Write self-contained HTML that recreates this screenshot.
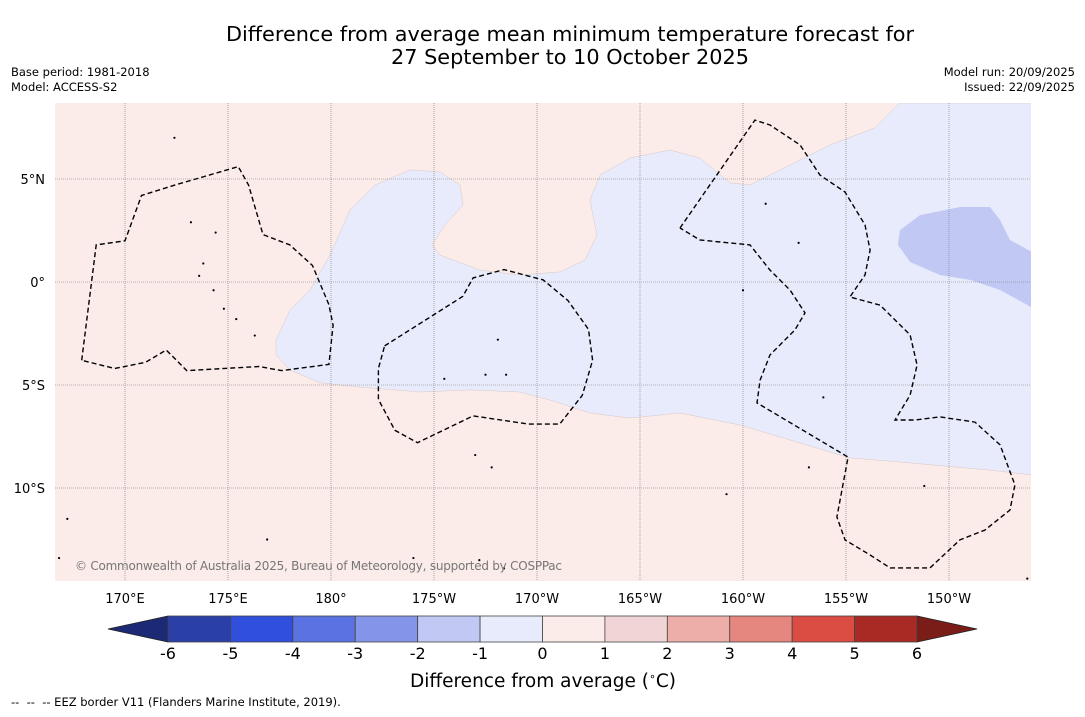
<!DOCTYPE html>
<html><head><meta charset="utf-8"><style>
body{margin:0;background:#fff;width:1085px;height:713px;overflow:hidden;font-family:"DejaVu Sans","Liberation Sans",sans-serif}
</style></head><body>
<svg width="1085" height="713" viewBox="0 0 1085 713" font-family="DejaVu Sans, Liberation Sans, sans-serif">
<text x="570" y="41" font-size="20.8" text-anchor="middle">Difference from average mean minimum temperature forecast for</text>
<text x="570" y="64" font-size="20.8" text-anchor="middle">27 September to 10 October 2025</text>
<text x="11" y="76" font-size="11.5">Base period: 1981-2018</text>
<text x="11" y="91" font-size="11.5">Model: ACCESS-S2</text>
<text x="1075" y="76" font-size="11.5" text-anchor="end">Model run: 20/09/2025</text>
<text x="1075" y="91" font-size="11.5" text-anchor="end">Issued: 22/09/2025</text>
<g id="map"></g>
<g id="cbar"></g>
<text x="543" y="687" font-size="18.5" text-anchor="middle">Difference from average (<tspan font-size="11" dy="-7">∘</tspan><tspan dy="7">C)</tspan></text>
<text x="11" y="706" font-size="11.5" xml:space="preserve">--  --  -- EEZ border V11 (Flanders Marine Institute, 2019).</text>
</svg>
<script>
const NS="http://www.w3.org/2000/svg";
const lonTicks=[170,175,180,185,190,195,200,205,210];
const lonLabels=["170°E","175°E","180°","175°W","170°W","165°W","160°W","155°W","150°W"];
const latTicks=[5,0,-5,-10];
const latLabels=["5°N","0°","5°S","10°S"];
const levels=[-6,-5,-4,-3,-2,-1,0,1,2,3,4,5,6];
const binColors=["#2a3fa8","#2f4fdc","#5a72e2","#8394e9","#c1c8f3","#e8ebfb","#fbebe9","#f1d5d6","#edaea9","#e6877f","#db4c43","#a92a24"];
const underColor="#1c2a75", overColor="#7a1d18";
const blueRegion=[[177.33,-2.82],[178.01,-1.36],[178.98,-0.39],[179.95,1.31],[180.92,3.5],[182.14,4.71],[183.83,5.44],[185.29,5.34],[186.26,4.71],[186.41,3.74],[185.53,2.77],[184.9,1.8],[185.29,1.31],[187.23,0.58],[189.17,0.34],[191.12,0.49],[192.33,1.07],[192.91,2.28],[192.57,3.98],[193.06,5.19],[194.51,6.02],[196.46,6.41],[197.91,6.02],[199.37,4.81],[200.34,4.71],[202.28,5.68],[204.22,6.65],[206.41,7.48],[207.14,8.25],[207.62,8.69],[214.5,8.69],[214.5,-9.42],[211.99,-9.13],[207.62,-8.74],[205.19,-8.54],[202.28,-7.67],[199.85,-6.94],[196.94,-6.36],[194.51,-6.6],[192.57,-6.36],[190.63,-5.73],[189.17,-5.34],[186.75,-5.24],[184.32,-5.34],[181.41,-5.1],[179.47,-4.9],[178.01,-4.27],[177.33,-3.54]];
const darkBlob=[[207.62,2.52],[208.59,3.25],[210.53,3.64],[211.99,3.64],[212.48,3.01],[212.96,2.04],[214.5,1.2],[214.5,-1.5],[212.48,-0.39],[211.02,0.1],[209.56,0.34],[208.11,0.97],[207.52,1.8]];
const eez=[
[[167.9,-3.8],[168.6,1.8],[170,2.0],[170.8,4.2],[172.4,4.7],[175.5,5.6],[176,4.7],[176.7,2.3],[178,1.8],[179.1,0.8],[179.9,-1.1],[180.1,-2.1],[179.9,-4.0],[177.6,-4.3],[176.5,-4.1],[173,-4.3],[172,-3.3],[171,-3.9],[169.5,-4.2],[167.9,-3.8]],
[[182.6,-3.1],[186.4,-0.7],[186.9,0.2],[188.4,0.6],[190.3,0.1],[191.5,-0.9],[192.5,-2.3],[192.7,-3.8],[192.2,-5.5],[191.1,-6.9],[189.6,-6.9],[186.9,-6.5],[184.2,-7.8],[183.1,-7.2],[182.3,-5.7],[182.3,-4.2],[182.6,-3.1]],
[[196.94,2.62],[200.58,7.86],[201.31,7.62],[202.77,6.65],[203.74,5.19],[204.95,4.37],[205.92,2.77],[206.17,1.55],[205.92,0.34],[205.19,-0.73],[206.65,-1.12],[208.11,-2.57],[208.45,-4.03],[208.11,-5.49],[207.38,-6.7],[208.35,-6.7],[209.56,-6.55],[211.26,-6.8],[212.48,-7.91],[213.2,-9.85],[212.96,-11.07],[211.75,-12.04],[210.53,-12.52],[209.08,-13.88],[207.14,-13.88],[206.17,-13.25],[204.95,-12.52],[204.56,-11.41],[205.1,-8.5],[200.68,-5.87],[200.83,-4.76],[201.31,-3.54],[202.52,-2.33],[203.01,-1.5],[202.28,-0.39],[201.31,0.58],[200.34,1.8],[197.91,2.04],[196.94,2.62]]
];
const islands=[[173.8,0.9],[173.6,0.3],[174.3,-0.4],[174.8,-1.3],[175.4,-1.8],[176.3,-2.6],[188.1,-2.8],[185.5,-4.7],[187.5,-4.5],[188.5,-4.5],[201.1,3.8],[202.7,1.9],[200,-0.4],[208.8,-9.9],[199.2,-10.3],[174.4,2.4],[173.2,2.9],[172.4,7.0],[167.2,-11.5],[176.9,-12.5],[184,-13.4],[187.2,-13.5],[188.4,-13.9],[213.8,-14.4],[166.8,-13.4],[203.9,-5.6],[203.2,-9.0],[187,-8.4],[187.8,-9.0]];
const X=lon=>125+(lon-170)/5*103;
const Y=lat=>282-lat/5*103;
function el(tag,attrs,parent){const e=document.createElementNS(NS,tag);for(const k in attrs)e.setAttribute(k,attrs[k]);parent.appendChild(e);return e;}
const map=document.getElementById('map');
const clip=el('clipPath',{id:'mc'},map);el('rect',{x:55,y:103,width:976,height:478},clip);
const bg=el('rect',{x:55,y:103,width:976,height:478,fill:binColors[6]},map);


const g=el('g',{'clip-path':'url(#mc)'},map);
const pts=a=>a.map(p=>X(p[0]).toFixed(1)+','+Y(p[1]).toFixed(1)).join(' ');
const b1=el('polygon',{points:pts(blueRegion),fill:binColors[5],stroke:'#d8c8c8','stroke-width':0.5},g);


const b2=el('polygon',{points:pts(darkBlob),fill:binColors[4]},g);


lonTicks.forEach((v,i)=>{
 const l=el('line',{x1:X(v),x2:X(v),y1:103,y2:581,stroke:'#777','stroke-width':0.6,'stroke-dasharray':'1,1'},g);
 
 
 const t=el('text',{x:X(v),y:603,'font-size':13,'text-anchor':'middle'},map);t.textContent=lonLabels[i];
 
 
});
latTicks.forEach((v,i)=>{
 const l=el('line',{x1:55,x2:1031,y1:Y(v),y2:Y(v),stroke:'#777','stroke-width':0.6,'stroke-dasharray':'1,1'},g);
 
 
 const t=el('text',{x:45,y:Y(v)+5,'font-size':13,'text-anchor':'end'},map);t.textContent=latLabels[i];
 
 
});
eez.forEach((a,i)=>{
 const p=el('polyline',{points:pts(a),fill:'none',stroke:'#000','stroke-width':1.4,'stroke-dasharray':'5,3'},g);
 
 
});
islands.forEach(p=>{
 const c=el('circle',{cx:X(p[0]),cy:Y(p[1]),r:1.1,fill:'#000'},g);
 
 
});
const cp=el('text',{x:75,y:570,'font-size':12,fill:'#777'},map);cp.textContent='© Commonwealth of Australia 2025, Bureau of Meteorology, supported by COSPPac';


cp.setAttribute('textLength','487');
const cb=document.getElementById('cbar');
const CX=v=>168+(v+6)/12*749, cy0=616, cy1=642;
const u=el('polygon',{points:`${CX(-6)},${cy0} 108,629 ${CX(-6)},${cy1}`,fill:underColor,stroke:'#222','stroke-width':0.8},cb);


const o=el('polygon',{points:`${CX(6)},${cy0} 977,629 ${CX(6)},${cy1}`,fill:overColor,stroke:'#222','stroke-width':0.8},cb);


binColors.forEach((c,i)=>{
 const r=el('rect',{x:CX(levels[i]),y:cy0,width:CX(levels[i+1])-CX(levels[i]),height:cy1-cy0,fill:c,stroke:'#444','stroke-width':0.8},cb);
 
 
});
levels.forEach(v=>{
 const t=el('text',{x:CX(v),y:659,'font-size':16,'text-anchor':'middle'},cb);t.textContent=String(v);
 
 
});
</script>
</body></html>
